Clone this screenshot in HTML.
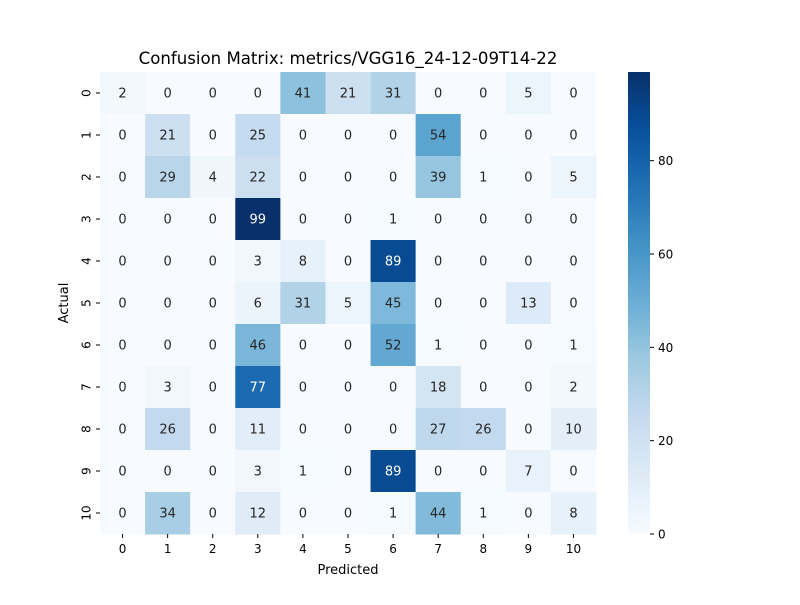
<!DOCTYPE html>
<html><head><meta charset="utf-8"><style>
body{margin:0;background:#fff;font-family:"Liberation Sans","DejaVu Sans",sans-serif;}
svg text{font-family:"DejaVu Sans","Liberation Sans",sans-serif;}
</style></head><body>
<svg id="chart" width="800" height="600" xmlns="http://www.w3.org/2000/svg">
<defs><linearGradient id="cbg" x1="0" y1="1" x2="0" y2="0"></linearGradient></defs>
<text x="348" y="64" text-anchor="middle" font-size="16.6">Confusion Matrix: metrics/VGG16_24-12-09T14-22</text>
<text x="348" y="574" text-anchor="middle" font-size="13">Predicted</text>
<text x="68" y="303" text-anchor="middle" font-size="13" transform="rotate(-90 68 303)">Actual</text>
<g id="cells"></g><g id="labels"></g><g id="cbar"></g>
</svg>
<script>
const classLabels=["0","1","2","3","4","5","6","7","8","9","10"];
const matrixRows=[
[2,0,0,0,41,21,31,0,0,5,0],
[0,21,0,25,0,0,0,54,0,0,0],
[0,29,4,22,0,0,0,39,1,0,5],
[0,0,0,99,0,0,1,0,0,0,0],
[0,0,0,3,8,0,89,0,0,0,0],
[0,0,0,6,31,5,45,0,0,13,0],
[0,0,0,46,0,0,52,1,0,0,1],
[0,3,0,77,0,0,0,18,0,0,2],
[0,26,0,11,0,0,0,27,26,0,10],
[0,0,0,3,1,0,89,0,0,7,0],
[0,34,0,12,0,0,1,44,1,0,8]];
const colorbarTicks=[0,20,40,60,80];
const vmin=0,vmax=99;
const NS="http://www.w3.org/2000/svg";
const X0=100,X1=596,Y0=72,Y1=534;
const n=classLabels.length,cw=(X1-X0)/n,ch=(Y1-Y0)/n;
const stops=["#f7fbff","#deebf7","#c6dbef","#9ecae1","#6baed6","#4292c6","#2171b5","#08519c","#08306b"];
function hex(h){return [1,3,5].map(i=>parseInt(h.substr(i,2),16));}
function blues(v){let t=Math.max(0,Math.min(1,(v-vmin)/(vmax-vmin)))*(stops.length-1);let i=Math.min(Math.floor(t),stops.length-2),f=t-i;const a=hex(stops[i]),b=hex(stops[i+1]);return "rgb("+a.map((c,k)=>Math.round(c+(b[k]-c)*f)).join(",")+")";}
function xPos(j){return X0+j*cw;}function yPos(i){return Y0+i*ch;}
function mk(tag,attrs,parent){const e=document.createElementNS(NS,tag);for(const k in attrs)e.setAttribute(k,attrs[k]);parent.appendChild(e);return e;}
const cells=document.getElementById("cells"),labels=document.getElementById("labels"),cbar=document.getElementById("cbar");
matrixRows.forEach((row,i)=>row.forEach((v,j)=>{
 const r=mk("rect",{x:xPos(j),y:yPos(i),width:cw+0.5,height:ch+0.5,fill:blues(v)},cells);
 
 
 const t=mk("text",{x:xPos(j)+cw/2,y:yPos(i)+ch/2+4.5,"text-anchor":"middle","font-size":"13",fill:v>60?"#fff":"#262626"},labels);
 t.textContent=v;
 
 
}));
classLabels.forEach((l,j)=>{
 const x=xPos(j)+cw/2;
 mk("line",{x1:x,x2:x,y1:Y1,y2:Y1+4,stroke:"#000"},labels);
 const t=mk("text",{x:x,y:Y1+19,"text-anchor":"middle","font-size":"12"},labels);t.textContent=l;
 
 
 const y=yPos(j)+ch/2;
 mk("line",{x1:X0-4,x2:X0,y1:y,y2:y,stroke:"#000"},labels);
 const u=mk("text",{x:X0-13,y:y,"text-anchor":"middle","font-size":"12",transform:"rotate(-90 "+(X0-13)+" "+y+")","dominant-baseline":"middle"},labels);u.textContent=l;
 
 
});
const g=document.getElementById("cbg");
stops.forEach((c,i)=>mk("stop",{offset:(i/(stops.length-1)),"stop-color":c},g));
const CX=628,CW=22;
const cr=mk("rect",{x:CX,y:Y0,width:CW,height:Y1-Y0,fill:"url(#cbg)"},cbar);


function cy(v){return Y1-(v-vmin)/(vmax-vmin)*(Y1-Y0);}
colorbarTicks.forEach(v=>{
 mk("line",{x1:CX+CW,x2:CX+CW+4,y1:cy(v),y2:cy(v),stroke:"#000"},cbar);
 const t=mk("text",{x:CX+CW+8,y:cy(v)+4.5,"font-size":"12"},cbar);t.textContent=v;
 
 
});
</script>
</body></html>
